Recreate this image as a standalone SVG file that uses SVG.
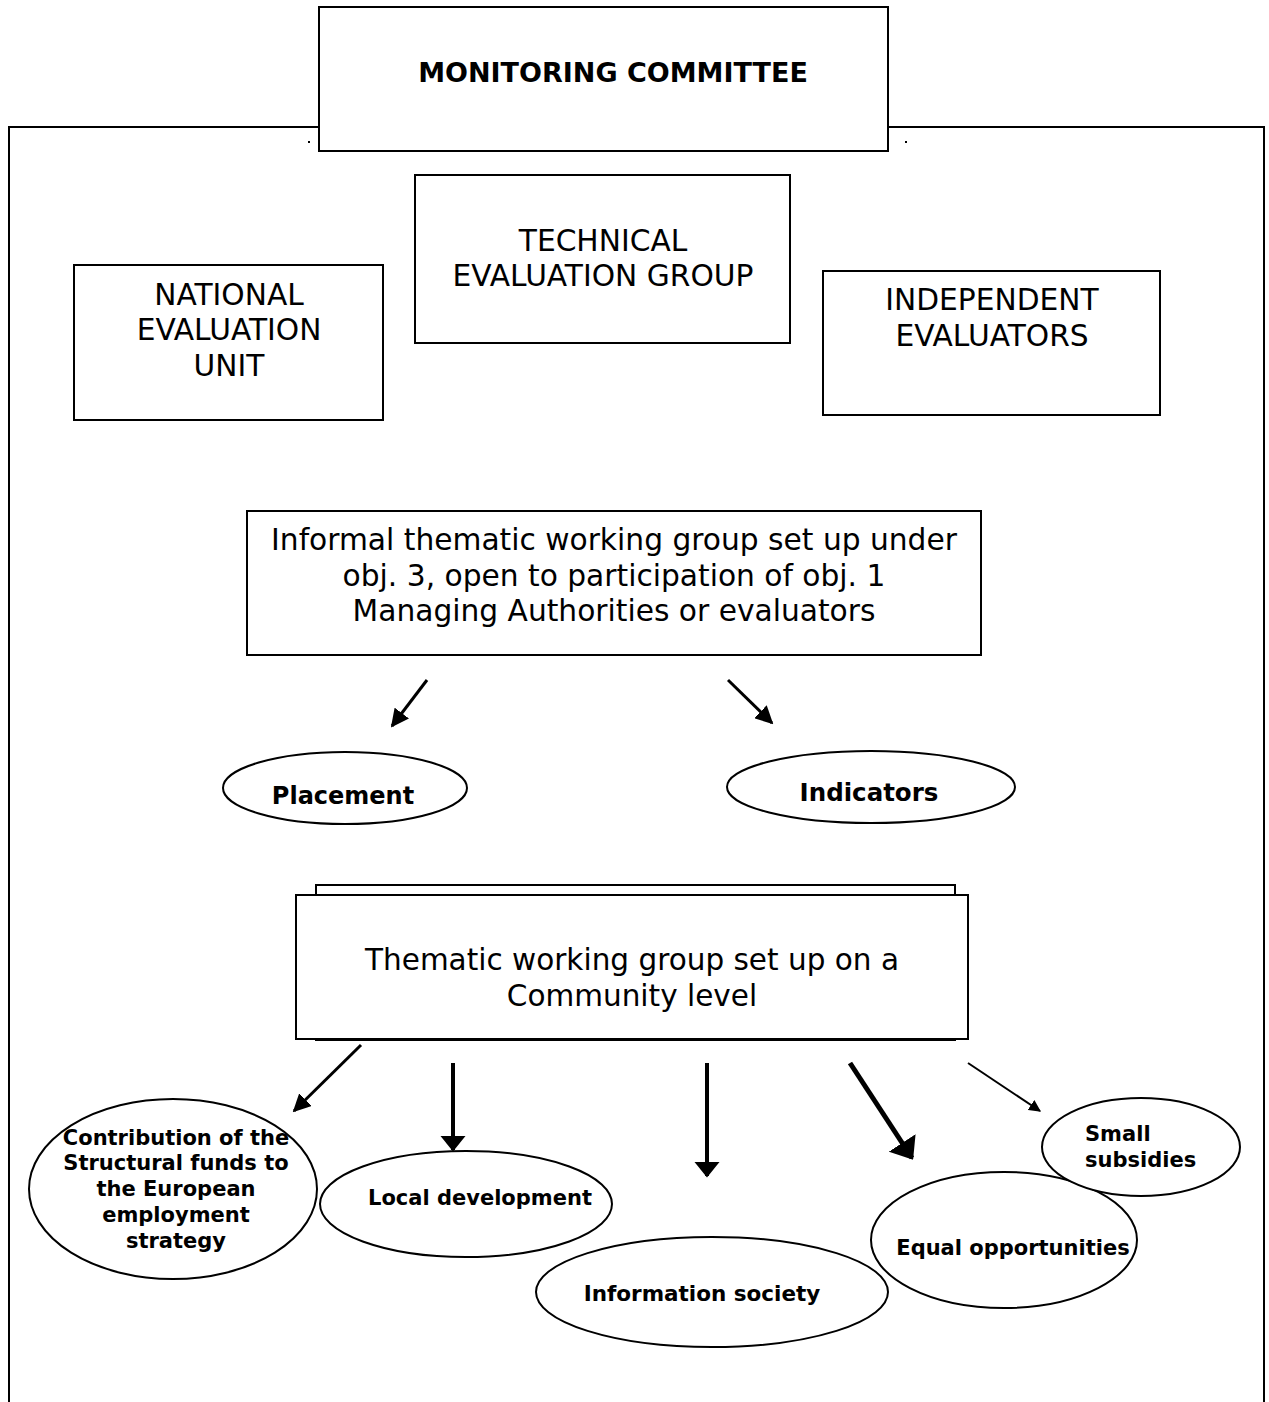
<svg xmlns="http://www.w3.org/2000/svg" width="1269" height="1402" viewBox="0 0 1269 1402">
<style>
.b{fill:#fff;stroke:#000;stroke-width:2}
.t{font-family:"DejaVu Sans",Verdana,sans-serif;fill:#000;text-anchor:middle}
.big{font-size:29.7px}
.bold{font-weight:bold}
.s{font-size:21px;font-weight:bold}
.c{stroke:#000;fill:none}
</style>
<defs>
<marker id="ah" viewBox="0 0 10 10" refX="9" refY="5" markerWidth="6" markerHeight="6" orient="auto" markerUnits="strokeWidth">
<path d="M0,0 L10,5 L0,10 Z" fill="#000"/>
</marker>
<marker id="ah2" viewBox="0 0 10 16" refX="9" refY="8" markerWidth="4" markerHeight="6.4" orient="auto" markerUnits="strokeWidth">
<path d="M0,0 L10,8 L0,16 Z" fill="#000"/>
</marker>
</defs>
<rect width="1269" height="1402" fill="#fff"/>
<g id="frame">
<path d="M9,1402 V127 H1264 V1402" class="c" stroke-width="2"/>
<rect x="308" y="141" width="2" height="2" fill="#000"/>
<rect x="905" y="141" width="2" height="2" fill="#000"/>
</g>
<g id="monitoring">
<rect x="319" y="7" width="569" height="144" class="b"/>
<text x="613" y="82" class="t bold" font-size="27">MONITORING COMMITTEE</text>
</g>
<g id="technical">
<rect x="415" y="175" width="375" height="168" class="b"/>
<text class="t big"><tspan x="603" y="251">TECHNICAL</tspan><tspan x="603" y="286">EVALUATION GROUP</tspan></text>
</g>
<g id="national">
<rect x="74" y="265" width="309" height="155" class="b"/>
<text class="t big"><tspan x="229" y="305">NATIONAL</tspan><tspan x="229" y="340">EVALUATION</tspan><tspan x="229" y="376">UNIT</tspan></text>
</g>
<g id="independent">
<rect x="823" y="271" width="337" height="144" class="b"/>
<text class="t big"><tspan x="992" y="310">INDEPENDENT</tspan><tspan x="992" y="346">EVALUATORS</tspan></text>
</g>
<g id="informal">
<rect x="247" y="511" width="734" height="144" class="b"/>
<text class="t big"><tspan x="614" y="550">Informal thematic working group set up under</tspan><tspan x="614" y="586">obj. 3, open to participation of obj. 1</tspan><tspan x="614" y="621">Managing Authorities or evaluators</tspan></text>
</g>
<g id="placement">
<ellipse cx="345" cy="788" rx="122" ry="36" class="b"/>
<text x="343" y="804" class="t bold" font-size="24">Placement</text>
</g>
<g id="indicators">
<ellipse cx="871" cy="787" rx="144" ry="36" class="b"/>
<text x="869" y="801" class="t bold" font-size="24.5">Indicators</text>
</g>
<g id="thematic">
<rect x="316" y="885" width="639" height="155" class="b"/>
<rect x="296" y="895" width="672" height="144" class="b"/>
<text class="t" font-size="29.5"><tspan x="632" y="970">Thematic working group set up on a</tspan><tspan x="632" y="1006">Community level</tspan></text>
</g>
<g id="contribution">
<ellipse cx="173" cy="1189" rx="144" ry="90" class="b"/>
<text class="t s"><tspan x="176" y="1145">Contribution of the</tspan><tspan x="176" y="1170">Structural funds to</tspan><tspan x="176" y="1196">the European</tspan><tspan x="176" y="1222">employment</tspan><tspan x="176" y="1248">strategy</tspan></text>
</g>
<g id="local">
<ellipse cx="466" cy="1204" rx="146" ry="53" class="b"/>
<text x="480" y="1205" class="t s">Local development</text>
</g>
<g id="infosoc">
<ellipse cx="712" cy="1292" rx="176" ry="55" class="b"/>
<text x="702" y="1301" class="t s" style="font-size:21.5px">Information society</text>
</g>
<g id="equal">
<ellipse cx="1004" cy="1240" rx="133" ry="68" class="b"/>
<text x="1013" y="1255" class="t s">Equal opportunities</text>
</g>
<g id="small">
<ellipse cx="1141" cy="1147" rx="99" ry="49" class="b"/>
<text class="t s" style="text-anchor:start"><tspan x="1085" y="1141">Small</tspan><tspan x="1085" y="1167">subsidies</tspan></text>
</g>
<g id="connectors">
<line x1="427" y1="680" x2="392" y2="726" class="c" stroke-width="3" marker-end="url(#ah)"/>
<line x1="728" y1="680" x2="772" y2="723" class="c" stroke-width="3" marker-end="url(#ah)"/>
<line x1="361" y1="1045" x2="294" y2="1111" class="c" stroke-width="3" marker-end="url(#ah)"/>
<line x1="453" y1="1063" x2="453" y2="1150" class="c" stroke-width="4" marker-end="url(#ah2)"/>
<line x1="707" y1="1063" x2="707" y2="1176" class="c" stroke-width="4" marker-end="url(#ah2)"/>
<line x1="850" y1="1063" x2="912" y2="1158" class="c" stroke-width="5" marker-end="url(#ah2)"/>
<line x1="968" y1="1063" x2="1040" y2="1111" class="c" stroke-width="2" marker-end="url(#ah)"/>
</g>
</svg>
